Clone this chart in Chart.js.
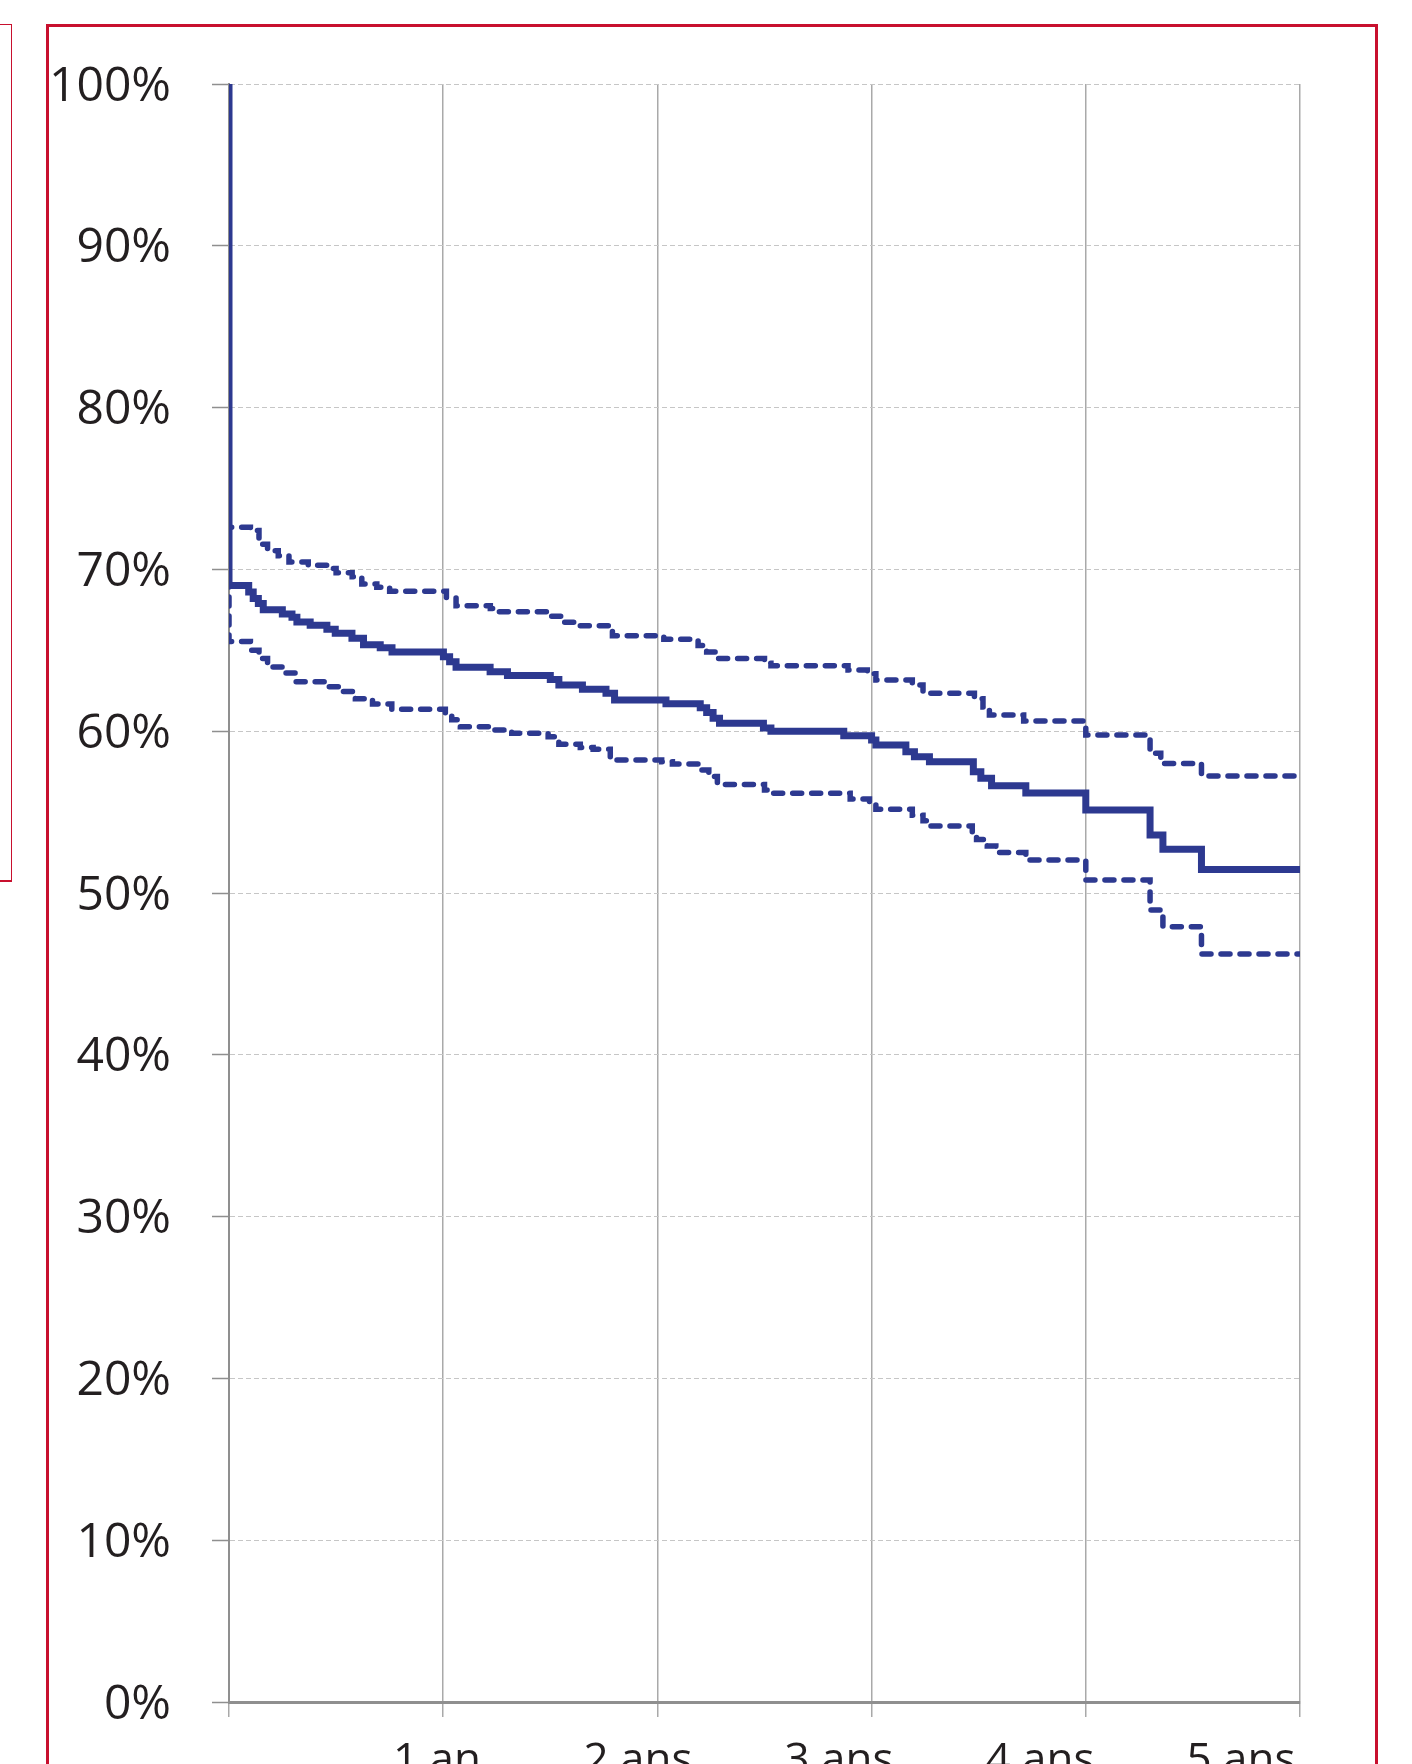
<!DOCTYPE html>
<html>
<head>
<meta charset="utf-8">
<script src="https://cdn.jsdelivr.net/npm/chart.js@4.4.1/dist/chart.umd.min.js"></script>
<style>
  html, body { margin: 0; padding: 0; background: #ffffff; overflow: hidden; }
  #wrap { position: relative; width: 1412px; height: 1764px; overflow: hidden; }
  #c { position: absolute; left: 0; top: 0; display: block; }
  .frame { position: absolute; box-sizing: border-box; pointer-events: none; }
  #frameMain { left: 46px; top: 24px; width: 1332px; height: 2000px; border: 3px solid #c8102e; }
  #frameLeft { left: -10px; top: 24px; width: 22px; height: 858px;
               border-top: 1.5px solid #c8102e; border-right: 1.5px solid #c8102e; border-bottom: 2px solid #c8102e; }
</style>
</head>
<body>
<div id="wrap">
  <canvas id="c" width="1412" height="1800"></canvas>
  <div class="frame" id="frameLeft"></div>
  <div class="frame" id="frameMain"></div>
</div>
<script>
// ---- Data (years since start, survival %) ----
const survieT = [0, 0, 0.092, 0.113, 0.137, 0.160, 0.249, 0.294, 0.317, 0.379, 0.457, 0.496, 0.574, 0.628, 0.706, 0.761, 1.001, 1.03, 1.06, 1.219, 1.30, 1.50, 1.54, 1.65, 1.76, 1.80, 2.04, 2.20, 2.23, 2.26, 2.29, 2.495, 2.53, 2.87, 3.00, 3.02, 3.16, 3.20, 3.27, 3.475, 3.51, 3.56, 3.72, 4.00, 4.30, 4.36, 4.54, 5.00];
const survieV = [100, 69.0, 68.6, 68.2, 67.9, 67.5, 67.25, 67.05, 66.75, 66.55, 66.3, 66.05, 65.75, 65.35, 65.15, 64.9, 64.6, 64.3, 63.95, 63.68, 63.45, 63.2, 62.86, 62.6, 62.35, 61.93, 61.7, 61.45, 61.15, 60.8, 60.49, 60.2, 60.0, 59.72, 59.46, 59.15, 58.73, 58.42, 58.11, 57.5, 57.09, 56.63, 56.18, 55.13, 53.58, 52.70, 51.46, 51.46];

const hautT = [0, 0, 0.10, 0.14, 0.155, 0.18, 0.23, 0.28, 0.37, 0.46, 0.50, 0.575, 0.62, 0.69, 0.75, 1.015, 1.06, 1.22, 1.25, 1.49, 1.56, 1.64, 1.79, 2.03, 2.19, 2.23, 2.27, 2.50, 2.53, 2.89, 2.98, 3.02, 3.19, 3.24, 3.48, 3.52, 3.55, 3.71, 4.00, 4.30, 4.35, 4.54, 5.00];
const hautV = [100, 72.6, 72.4, 71.8, 71.55, 71.15, 70.85, 70.45, 70.25, 70.05, 69.8, 69.55, 69.1, 68.9, 68.65, 68.25, 67.75, 67.59, 67.39, 67.1, 66.73, 66.52, 65.9, 65.68, 65.3, 64.9, 64.5, 64.2, 64.05, 63.78, 63.55, 63.16, 62.85, 62.35, 62.0, 61.5, 61.0, 60.63, 59.76, 58.63, 58.01, 57.23, 57.23];

const basT = [0, 0, 0.10, 0.14, 0.18, 0.26, 0.31, 0.46, 0.52, 0.59, 0.67, 0.76, 1.01, 1.04, 1.08, 1.22, 1.32, 1.49, 1.54, 1.64, 1.70, 1.78, 2.02, 2.07, 2.20, 2.24, 2.28, 2.50, 2.53, 2.90, 2.99, 3.02, 3.19, 3.24, 3.27, 3.47, 3.49, 3.54, 3.58, 3.72, 4.00, 4.30, 4.36, 4.54, 5.00];
const basV = [100, 65.55, 65.0, 64.5, 63.97, 63.6, 63.05, 62.75, 62.45, 62.0, 61.68, 61.35, 61.1, 60.7, 60.28, 60.07, 59.87, 59.66, 59.2, 59.0, 58.88, 58.22, 58.11, 57.97, 57.6, 57.2, 56.7, 56.37, 56.16, 55.81, 55.5, 55.17, 54.8, 54.47, 54.14, 53.7, 53.3, 52.9, 52.51, 52.04, 50.80, 48.95, 47.92, 46.23, 46.23];

const xGridValues = [0, 1, 2, 3, 4, 5];
const xTickValues = [1, 2, 3, 4, 5];
const xTickLabels = ['1 an', '2 ans', '3 ans', '4 ans', '5 ans'];
const yTickValues = [0, 10, 20, 30, 40, 50, 60, 70, 80, 90, 100];

// ---- Chart ----
const NAVY = '#2d3990';
const pts = (T, V) => T.map((t, i) => ({ x: t, y: V[i] }));

new Chart(document.getElementById('c').getContext('2d'), {
  type: 'line',
  data: {
    datasets: [
      { label: 'IC sup', data: pts(hautT, hautV), stepped: true, borderColor: NAVY, borderWidth: 5.5,
        borderDash: [9, 10], borderCapStyle: 'round', pointRadius: 0, fill: false, order: 2 },
      { label: 'IC inf', data: pts(basT, basV), stepped: true, borderColor: NAVY, borderWidth: 5.5,
        borderDash: [9, 10], borderCapStyle: 'round', pointRadius: 0, fill: false, order: 2 },
      { label: 'Survie', data: pts(survieT, survieV), stepped: true, borderColor: NAVY, borderWidth: 7,
        borderCapStyle: 'butt', borderJoinStyle: 'miter', pointRadius: 0, fill: false, order: 1 }
    ]
  },
  options: {
    responsive: false,
    animation: false,
    events: [],
    layout: { padding: { left: 0, right: 112, top: 84, bottom: 0 } },
    plugins: { legend: { display: false }, tooltip: { enabled: false } },
    scales: {
      x: {
        type: 'linear', min: 0, max: 5, position: 'bottom', weight: 0,
        afterBuildTicks: s => { s.ticks = xGridValues.map(v => ({ value: v })); },
        afterFit: s => { s.height = 17; },
        ticks: { display: false },
        grid: { color: '#a9a9a9', lineWidth: 1.5, drawTicks: true, tickLength: 15 },
        border: { display: true, color: '#8f8f8f', width: 3 }
      },
      x2: {
        type: 'linear', min: -0.0348, max: 5.2935, position: 'bottom', weight: 1,
        afterBuildTicks: s => { s.ticks = xTickValues.map(v => ({ value: v })); },
        afterFit: s => { s.height = 81; },
        grid: { display: false, drawTicks: false },
        border: { display: false },
        ticks: {
          callback: v => { const i = xTickValues.indexOf(v); return i >= 0 ? xTickLabels[i] : ''; },
          font: { family: 'Open Sans', size: 44 }, color: '#231f20', padding: 16,
          maxRotation: 0, autoSkip: false
        }
      },
      y: {
        type: 'linear', min: 0, max: 100,
        afterBuildTicks: s => { s.ticks = yTickValues.map(v => ({ value: v })); },
        afterFit: s => { s.width = 229; },
        ticks: { callback: v => v + '%', font: { family: 'Open Sans', size: 48 }, color: '#231f20',
                 padding: 41, labelOffset: 3 },
        grid: {
          color: c => (c.tick && c.tick.value === 0) ? 'rgba(0,0,0,0)' : '#c6c6c6',
          lineWidth: 1, tickLength: 17, tickColor: '#8f8f8f', tickWidth: 1.5
        },
        border: { display: true, color: '#8f8f8f', width: 2, dash: [5, 3] }
      }
    }
  }
});
</script>
</body>
</html>
